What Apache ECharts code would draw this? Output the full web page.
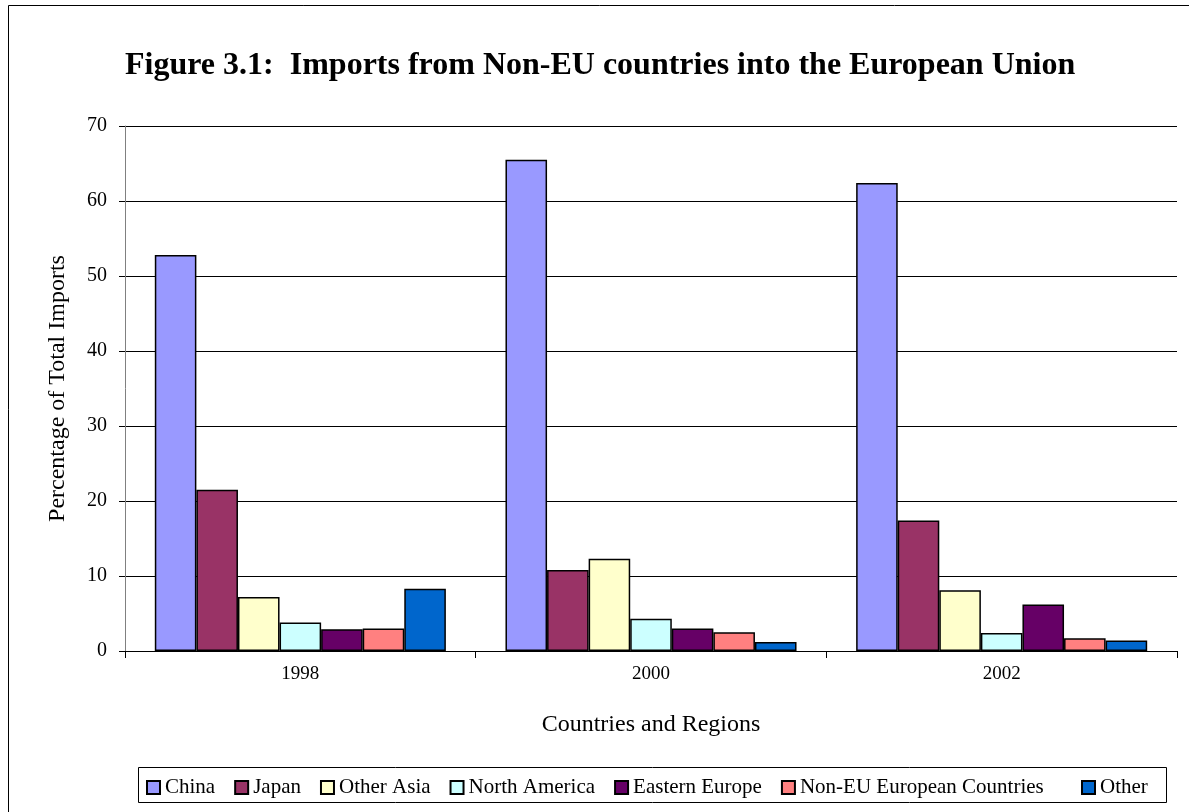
<!DOCTYPE html>
<html>
<head>
<meta charset="utf-8">
<script src="https://cdn.jsdelivr.net/npm/echarts@6/dist/echarts.min.js"></script>
<style>html,body{margin:0;padding:0;background:#fff}#c{width:1189px;height:812px}</style>
</head>
<body>
<div id="c"></div>
<script>
const years = ['1998', '2000', '2002'];
const seriesNames = ['China', 'Japan', 'Other Asia', 'North America', 'Eastern Europe', 'Non-EU European Countries', 'Other'];
const china = [52.8, 65.5, 62.4];
const japan = [21.5, 10.8, 17.4];
const otherAsia = [7.2, 12.3, 8.1];
const northAmerica = [3.8, 4.3, 2.4];
const easternEurope = [2.9, 3.0, 6.2];
const nonEU = [3.0, 2.5, 1.7];
const other = [8.3, 1.2, 1.4];
const yTicks = [0, 10, 20, 30, 40, 50, 60, 70];

const colors = ['#9999FF', '#993366', '#FFFFCC', '#CCFFFF', '#660066', '#FF8080', '#0066CC'];
const values = [china, japan, otherAsia, northAmerica, easternEurope, nonEU, other];
const serif = '"Liberation Serif", "Times New Roman", serif';

const chart = echarts.init(document.getElementById('c'), null, {renderer: 'canvas'});
const legendText = {fontFamily: serif, fontSize: 21, color: '#000'};
chart.setOption({
  animation: false,
  backgroundColor: '#fff',
  title: {
    text: 'Figure 3.1:  Imports from Non-EU countries into the European Union',
    left: 120, top: 45,
    textStyle: {fontFamily: serif, fontSize: 32, fontWeight: 'bold', color: '#000'}
  },
  legend: [{
    data: seriesNames.slice(0, 6),
    left: 146, top: 777,
    itemWidth: 13, itemHeight: 13, itemGap: 19,
    icon: 'rect',
    textStyle: legendText,
    padding: 0
  }, {
    data: ['Other'],
    left: 1081, top: 777,
    itemWidth: 13, itemHeight: 13,
    icon: 'rect',
    textStyle: legendText,
    padding: 0
  }],
  graphic: [
    {type: 'rect', shape: {x: 8.5, y: 5.5, width: 1200, height: 850}, style: {fill: 'none', stroke: '#000', lineWidth: 1}, silent: true, z: -1},
    {type: 'rect', shape: {x: 138.5, y: 767.5, width: 1028, height: 35}, style: {fill: 'none', stroke: '#000', lineWidth: 1}, silent: true}
  ],
  grid: {left: 125, right: 12, top: 126, bottom: 161, containLabel: false},
  xAxis: {
    type: 'category',
    data: years,
    name: 'Countries and Regions',
    nameLocation: 'middle',
    nameGap: 62,
    nameTextStyle: {fontFamily: serif, fontSize: 24, color: '#000'},
    axisLine: {lineStyle: {color: '#000', width: 1}},
    axisTick: {show: true, length: 7, lineStyle: {color: '#000'}},
    axisLabel: {fontFamily: serif, fontSize: 19, color: '#000', margin: 14}
  },
  yAxis: {
    type: 'value',
    min: 0, max: 70, interval: 10,
    name: 'Percentage of Total Imports',
    nameLocation: 'middle',
    nameGap: 55,
    nameTextStyle: {fontFamily: serif, fontSize: 24, color: '#000'},
    axisLine: {show: true, lineStyle: {color: '#808080', width: 1}},
    axisTick: {show: true, length: 6, lineStyle: {color: '#000'}},
    axisLabel: {fontFamily: serif, fontSize: 20, color: '#000', margin: 18,
      formatter: v => yTicks.includes(v) ? String(v) : ''},
    splitLine: {show: true, lineStyle: {color: '#000', width: 1}}
  },
  series: seriesNames.map((n, i) => ({
    name: n,
    type: 'bar',
    data: values[i],
    barGap: '0%',
    barCategoryGap: '17%',
    itemStyle: {color: colors[i], borderColor: '#000', borderWidth: 1.5}
  }))
});
</script>
</body>
</html>
